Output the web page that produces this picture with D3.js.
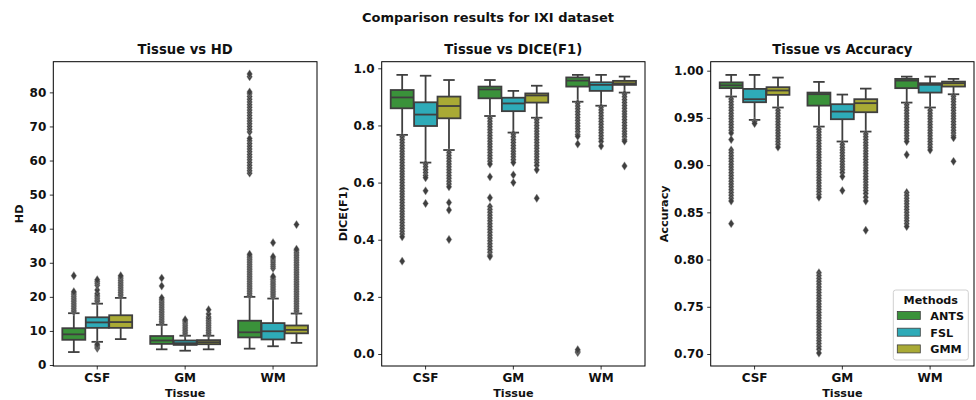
<!DOCTYPE html>
<html>
<head>
<meta charset="utf-8">
<script src="https://cdn.jsdelivr.net/npm/d3@7"></script>
<style>
  body { margin: 0; background: #fff; }
  text { font-family: "DejaVu Sans", sans-serif; font-weight: bold; fill: #111; }
</style>
</head>
<body>
<div id="chart"></div>
<script>
const tissues = ["CSF", "GM", "WM"];
const methods = ["ANTS", "FSL", "GMM"];
const methodColors = ["#3a923a", "#2eabb8", "#a9aa35"];

// box stats: [whiskerLow, q1, median, q3, whiskerHigh], order CSF(ANTS,FSL,GMM), GM(...), WM(...)
const hdBoxes = [
  [3.8, 7.4, 9.0, 10.8, 15.2], [6.8, 10.9, 12.5, 14.0, 18.0], [7.6, 10.9, 12.6, 14.6, 19.7],
  [4.6, 6.2, 7.2, 8.5, 11.8], [4.2, 5.9, 6.4, 7.2, 8.6], [4.6, 6.1, 6.7, 7.3, 8.6],
  [4.8, 8.1, 9.6, 13.0, 20.0], [5.5, 7.5, 9.9, 12.3, 19.5], [6.5, 9.3, 10.3, 11.6, 15.1]
];
const hdOutliers = [
  [15.6, 16.1, 16.6, 17.1, 17.6, 18.1, 18.6, 19.1, 19.6, 20.1, 20.6, 21.1, 21.5, 26.2],
  [4.9, 5.3, 5.7, 6.1, 18.6, 19.0, 19.5, 20.0, 20.5, 21.0, 22.0, 23.4, 24.0, 24.5, 25.0],
  [20.3, 20.8, 21.3, 21.8, 22.3, 22.8, 23.3, 23.8, 24.3, 24.8, 25.3, 25.8, 26.2],
  [12.3, 12.8, 13.3, 13.8, 14.3, 14.8, 15.3, 15.8, 16.3, 16.8, 17.3, 17.8, 18.3, 18.8, 19.3, 19.7, 23.2, 25.5],
  [9.1, 9.6, 10.1, 10.6, 11.1, 11.6, 12.1, 12.6, 13.0, 13.3],
  [9.1, 9.6, 10.1, 10.6, 11.1, 11.6, 12.1, 12.6, 13.1, 13.6, 14.1, 15.0, 16.2],
  [20.5, 21.0, 21.5, 22.0, 22.5, 23.0, 23.5, 24.0, 24.5, 25.0, 25.5, 26.0, 26.5, 27.0, 27.5, 28.0,
   28.5, 29.0, 29.5, 30.0, 30.5, 31.0, 31.5, 32.0, 32.5,
   56.3, 57.0, 57.8, 58.6, 59.4, 60.2, 61.0, 61.8, 62.6, 63.4, 64.2, 65.0, 65.8, 66.5,
   68.4, 69.2, 70.0, 70.8, 71.6, 72.4, 73.2, 74.0, 74.8, 75.6, 76.4, 77.2, 78.0, 78.8, 79.6, 80.1,
   84.6, 85.4],
  [20.1, 20.6, 21.1, 21.6, 22.1, 22.6, 23.1, 23.6, 24.1, 24.6, 25.1, 25.6, 26.0,
   28.4, 29.0, 29.6, 30.2, 30.8, 31.4, 31.8, 35.9],
  [15.6, 16.1, 16.6, 17.1, 17.6, 18.1, 18.6, 19.1, 19.6, 20.1, 20.6, 21.1, 21.6, 22.1, 22.6, 23.1,
   23.6, 24.1, 24.6, 25.1, 25.6, 26.1, 26.6, 27.1, 27.6, 28.1, 28.6, 29.1, 29.6, 30.1, 30.6, 31.1,
   31.6, 32.1, 32.6, 33.1, 33.6, 34.0, 41.2]
];

const diceBoxes = [
  [0.767, 0.860, 0.898, 0.924, 0.977], [0.670, 0.798, 0.838, 0.881, 0.974], [0.714, 0.825, 0.868, 0.901, 0.959],
  [0.833, 0.895, 0.926, 0.936, 0.959], [0.775, 0.850, 0.877, 0.897, 0.921], [0.827, 0.880, 0.905, 0.912, 0.939],
  [0.883, 0.936, 0.957, 0.968, 0.977], [0.869, 0.921, 0.942, 0.951, 0.977], [0.915, 0.942, 0.947, 0.956, 0.971]
];
const diceOutliers = [
  [0.76, 0.75, 0.74, 0.73, 0.72, 0.71, 0.70, 0.69, 0.68, 0.67, 0.66, 0.65, 0.64, 0.63, 0.62, 0.61,
   0.60, 0.59, 0.58, 0.57, 0.56, 0.55, 0.54, 0.53, 0.52, 0.51, 0.50, 0.49, 0.48, 0.47, 0.46, 0.45,
   0.44, 0.43, 0.42, 0.41, 0.325],
  [0.665, 0.655, 0.645, 0.635, 0.625, 0.617, 0.571, 0.527],
  [0.705, 0.695, 0.685, 0.675, 0.665, 0.655, 0.645, 0.635, 0.625, 0.615, 0.605, 0.595, 0.585, 0.53, 0.504, 0.401],
  [0.825, 0.815, 0.805, 0.795, 0.785, 0.775, 0.765, 0.755, 0.745, 0.735, 0.725, 0.715, 0.705, 0.695,
   0.685, 0.675, 0.665, 0.620, 0.547,
   0.516, 0.506, 0.496, 0.486, 0.476, 0.466, 0.456, 0.446, 0.436, 0.426, 0.416, 0.406, 0.396, 0.386,
   0.376, 0.366, 0.356, 0.346, 0.341],
  [0.77, 0.76, 0.75, 0.74, 0.73, 0.72, 0.71, 0.70, 0.69, 0.68, 0.67, 0.627, 0.600],
  [0.82, 0.81, 0.80, 0.79, 0.78, 0.77, 0.76, 0.75, 0.74, 0.73, 0.72, 0.71, 0.70, 0.69, 0.68, 0.67,
   0.66, 0.645, 0.545],
  [0.878, 0.868, 0.858, 0.848, 0.838, 0.828, 0.818, 0.808, 0.798, 0.788, 0.778, 0.768, 0.762, 0.735,
   0.005, 0.010, 0.015],
  [0.864, 0.854, 0.844, 0.834, 0.824, 0.814, 0.804, 0.794, 0.784, 0.774, 0.764, 0.754, 0.744, 0.728],
  [0.910, 0.900, 0.890, 0.880, 0.870, 0.860, 0.850, 0.840, 0.830, 0.820, 0.810, 0.800, 0.790, 0.780,
   0.770, 0.760, 0.750, 0.745, 0.658]
];

const accBoxes = [
  [0.9726, 0.9815, 0.9845, 0.9876, 0.9955], [0.9479, 0.9666, 0.9698, 0.9807, 0.9955], [0.961, 0.9744, 0.979, 0.9825, 0.9927],
  [0.9408, 0.963, 0.9751, 0.9768, 0.9881], [0.925, 0.9486, 0.9567, 0.9645, 0.9747], [0.9355, 0.956, 0.9656, 0.9698, 0.981],
  [0.9662, 0.9815, 0.9895, 0.9913, 0.9937], [0.961, 0.9768, 0.985, 0.9867, 0.9937], [0.975, 0.9832, 0.9867, 0.9884, 0.9913]
];
const accOutliers = [
  [0.970, 0.967, 0.964, 0.961, 0.958, 0.955, 0.952, 0.949, 0.946, 0.943, 0.940, 0.937, 0.934, 0.927,
   0.916, 0.913, 0.910, 0.907, 0.904, 0.901, 0.898, 0.895, 0.892, 0.889, 0.886, 0.883, 0.880, 0.877,
   0.874, 0.871, 0.868, 0.865, 0.862, 0.838],
  [0.946, 0.944],
  [0.958, 0.955, 0.952, 0.949, 0.946, 0.943, 0.940, 0.937, 0.934, 0.931, 0.928, 0.925, 0.922, 0.919],
  [0.938, 0.935, 0.932, 0.929, 0.926, 0.923, 0.920, 0.917, 0.914, 0.911, 0.908, 0.905, 0.902, 0.899,
   0.896, 0.893, 0.890, 0.887, 0.884, 0.881, 0.878, 0.875, 0.872, 0.869, 0.866,
   0.786, 0.783, 0.780, 0.777, 0.774, 0.771, 0.768, 0.765, 0.762, 0.759, 0.756, 0.753, 0.750, 0.747,
   0.744, 0.741, 0.738, 0.735, 0.732, 0.729, 0.726, 0.723, 0.720, 0.717, 0.714, 0.711, 0.708, 0.705, 0.701],
  [0.922, 0.919, 0.916, 0.913, 0.910, 0.907, 0.904, 0.901, 0.898, 0.895, 0.892, 0.888, 0.873],
  [0.933, 0.930, 0.927, 0.924, 0.921, 0.918, 0.915, 0.912, 0.909, 0.906, 0.903, 0.900, 0.897, 0.894,
   0.891, 0.888, 0.885, 0.882, 0.879, 0.876, 0.873, 0.870, 0.866, 0.862, 0.831],
  [0.964, 0.961, 0.958, 0.955, 0.952, 0.949, 0.946, 0.943, 0.940, 0.937, 0.934, 0.931, 0.928, 0.925,
   0.911, 0.871, 0.868, 0.865, 0.862, 0.859, 0.856, 0.853, 0.850, 0.847, 0.844, 0.841, 0.838, 0.835],
  [0.958, 0.955, 0.952, 0.949, 0.946, 0.943, 0.940, 0.937, 0.934, 0.931, 0.928, 0.925, 0.922, 0.919, 0.916],
  [0.973, 0.970, 0.967, 0.964, 0.961, 0.958, 0.955, 0.952, 0.949, 0.946, 0.943, 0.940, 0.937, 0.934,
   0.931, 0.929, 0.904]
];

const hdTicks = [0, 10, 20, 30, 40, 50, 60, 70, 80];
const diceTicks = [0.0, 0.2, 0.4, 0.6, 0.8, 1.0];
const accTicks = [0.70, 0.75, 0.80, 0.85, 0.90, 0.95, 1.00];

const W = 976, H = 400;
const plotTop = 61.7, plotBottom = 366;
const gray = "#3f3f3f";

const svg = d3.select("#chart").append("svg").attr("width", W).attr("height", H);

svg.append("text")
  .attr("x", 488).attr("y", 22)
  .attr("text-anchor", "middle")
  .attr("font-size", 13)
  .text("Comparison results for IXI dataset");

const panels = [
  { title: "Tissue vs HD", ylabel: "HD", left: 53.3, right: 317, domain: [-0.29, 89.0],
    ticks: hdTicks, fmt: d3.format("d"), boxes: hdBoxes, outliers: hdOutliers, labelX: 23 },
  { title: "Tissue vs DICE(F1)", ylabel: "DICE(F1)", left: 381.7, right: 645, domain: [-0.042, 1.0231],
    ticks: diceTicks, fmt: d3.format(".1f"), boxes: diceBoxes, outliers: diceOutliers, labelX: 347 },
  { title: "Tissue vs Accuracy", ylabel: "Accuracy", left: 710.7, right: 974, domain: [0.6873, 1.0095],
    ticks: accTicks, fmt: d3.format(".2f"), boxes: accBoxes, outliers: accOutliers, labelX: 668 }
];

const diamond = (cx, cy) => {
  const w = 2.8, h = 4.2;
  return `M${cx},${cy - h}L${cx + w},${cy}L${cx},${cy + h}L${cx - w},${cy}Z`;
};

panels.forEach((p) => {
  const g = svg.append("g");
  const x = d3.scaleBand().domain(tissues).range([p.left, p.right]);
  const inner = d3.scaleBand().domain(methods).range([x.bandwidth() * 0.1, x.bandwidth() * 0.9]);
  const y = d3.scaleLinear().domain(p.domain).range([plotBottom, plotTop]);
  const bw = inner.bandwidth() * 0.98;

  // x axis
  const xAxis = g.append("g")
    .attr("transform", "translate(0," + plotBottom + ")")
    .call(d3.axisBottom(x).tickSize(3.5).tickPadding(3.5));
  xAxis.select(".domain").remove();
  xAxis.selectAll("text").attr("font-size", 12).style("font-family", "DejaVu Sans").style("font-weight", "bold").attr("fill", "#111");
  xAxis.selectAll("line").attr("stroke", "#000").attr("stroke-width", 0.8);

  // y axis
  const yAxis = g.append("g")
    .attr("transform", "translate(" + p.left + ",0)")
    .call(d3.axisLeft(y).tickValues(p.ticks).tickFormat(p.fmt).tickSize(3.5).tickPadding(3.5));
  yAxis.select(".domain").remove();
  yAxis.selectAll("text").attr("font-size", 12).style("font-family", "DejaVu Sans").style("font-weight", "bold").attr("fill", "#111");
  yAxis.selectAll("line").attr("stroke", "#000").attr("stroke-width", 0.8);

  const items = [];
  tissues.forEach((t, ti) => {
    methods.forEach((m, mi) => {
      const k = ti * 3 + mi;
      items.push({ cx: x(t) + inner(m) + inner.bandwidth() / 2, s: p.boxes[k], out: p.outliers[k], color: methodColors[mi] });
    });
  });

  items.forEach((d) => {
    const [lo, q1, med, q3, hi] = d.s;
    const b = g.append("g");
    b.append("line").attr("x1", d.cx).attr("x2", d.cx).attr("y1", y(q1)).attr("y2", y(lo))
      .attr("stroke", gray).attr("stroke-width", 1.8);
    b.append("line").attr("x1", d.cx).attr("x2", d.cx).attr("y1", y(q3)).attr("y2", y(hi))
      .attr("stroke", gray).attr("stroke-width", 1.8);
    b.append("line").attr("x1", d.cx - bw / 4).attr("x2", d.cx + bw / 4).attr("y1", y(lo)).attr("y2", y(lo))
      .attr("stroke", gray).attr("stroke-width", 1.8);
    b.append("line").attr("x1", d.cx - bw / 4).attr("x2", d.cx + bw / 4).attr("y1", y(hi)).attr("y2", y(hi))
      .attr("stroke", gray).attr("stroke-width", 1.8);
    b.append("rect")
      .attr("x", d.cx - bw / 2).attr("y", y(q3))
      .attr("width", bw).attr("height", Math.max(0.5, y(q1) - y(q3)))
      .attr("fill", d.color).attr("stroke", gray).attr("stroke-width", 1.8);
    b.append("line").attr("x1", d.cx - bw / 2).attr("x2", d.cx + bw / 2).attr("y1", y(med)).attr("y2", y(med))
      .attr("stroke", gray).attr("stroke-width", 1.8);
    b.selectAll("path.flier").data(d.out).enter().append("path")
      .attr("class", "flier")
      .attr("d", (v) => diamond(d.cx, y(v)))
      .attr("fill", gray)
      .attr("stroke", "#9a9a9a").attr("stroke-width", 0.4);
  });

  // frame
  g.append("rect")
    .attr("x", p.left).attr("y", plotTop)
    .attr("width", p.right - p.left).attr("height", plotBottom - plotTop)
    .attr("fill", "none").attr("stroke", "#000").attr("stroke-width", 1);

  g.append("text")
    .attr("x", (p.left + p.right) / 2).attr("y", 54)
    .attr("text-anchor", "middle").attr("font-size", 13.2)
    .text(p.title);
  g.append("text")
    .attr("x", (p.left + p.right) / 2).attr("y", 397)
    .attr("text-anchor", "middle").attr("font-size", 11.2)
    .text("Tissue");
  g.append("text")
    .attr("transform", "translate(" + p.labelX + "," + (plotTop + plotBottom) / 2 + ") rotate(-90)")
    .attr("text-anchor", "middle").attr("font-size", 11.2)
    .text(p.ylabel);

  // legend in last panel
  if (p.ylabel === "Accuracy") {
    const lg = g.append("g").attr("transform", "translate(893.3,290)");
    lg.append("rect").attr("width", 75).attr("height", 70).attr("rx", 2.5)
      .attr("fill", "#fff").attr("fill-opacity", 0.8).attr("stroke", "#d0d0d0").attr("stroke-width", 1);
    lg.append("text").attr("x", 37.5).attr("y", 13.5).attr("text-anchor", "middle").attr("font-size", 11.2).text("Methods");
    methods.forEach((m, i) => {
      lg.append("rect").attr("x", 4).attr("y", 21.5 + i * 16.7).attr("width", 23).attr("height", 8)
        .attr("fill", methodColors[i]).attr("stroke", gray).attr("stroke-width", 0.8);
      lg.append("text").attr("x", 37).attr("y", 30 + i * 16.7).attr("font-size", 11.2).text(m);
    });
  }
});
</script>
</body>
</html>
